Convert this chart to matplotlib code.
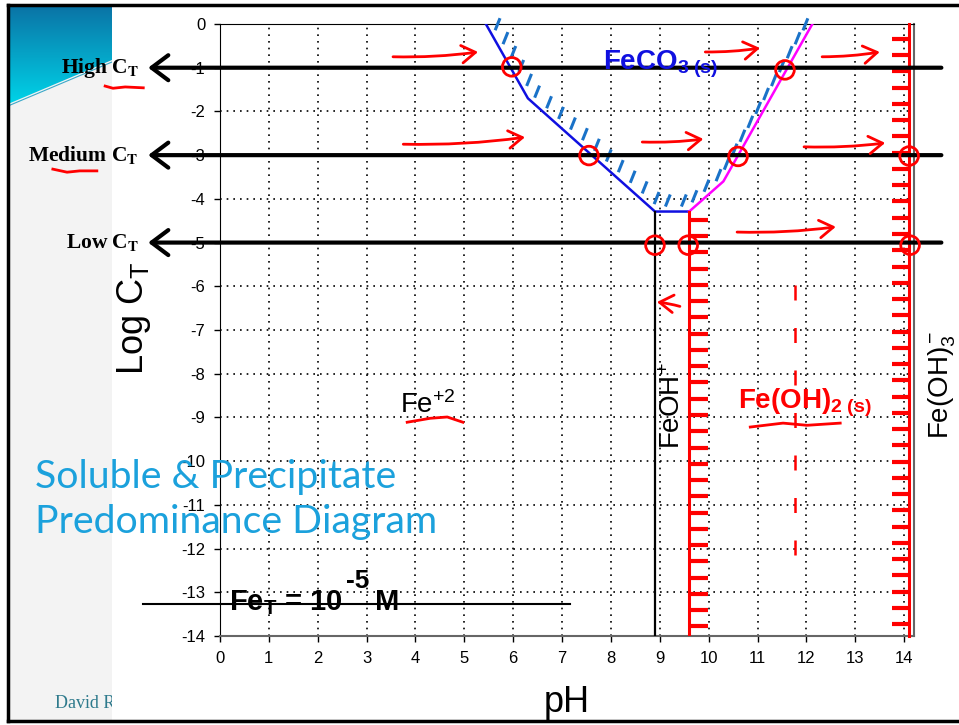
import matplotlib.pyplot as plt
import numpy as np
from matplotlib.patches import Rectangle, Polygon
from matplotlib.colors import LinearSegmentedColormap

plt.rcParams['font.family'] = ['Liberation Sans', 'DejaVu Sans']
plt.rcParams['mathtext.fontset'] = 'custom'
plt.rcParams['mathtext.rm'] = 'Liberation Sans'
plt.rcParams['mathtext.it'] = 'Liberation Sans:italic'
plt.rcParams['mathtext.bf'] = 'Liberation Sans:bold'
plt.rcParams['axes.unicode_minus'] = False

# axes ticks
ph_ticks = list(range(0, 15))
logc_ticks = list(range(0, -15, -1))

# FeCO3(s) boundary, Fe+2 side and the short FeOH+ shelf
feco3_left_ph = [5.44, 6.30, 8.90, 9.60]
feco3_left_logc = [0.0, -1.70, -4.29, -4.29]
# FeCO3(s) boundary, Fe(OH)2(s) side
feco3_right_ph = [9.60, 10.30, 12.12]
feco3_right_logc = [-4.29, -3.60, 0.0]

feoh_ph = 8.9        # Fe+2 / FeOH+
feoh2_low_ph = 9.6   # FeOH+ / Fe(OH)2(s)
feoh2_high_ph = 14.1  # Fe(OH)2(s) / Fe(OH)3-
shelf_logc = -4.29

# total carbonate levels
ct_levels = [-1, -3, -5]
ct_names = ['High', 'Medium', 'Low']
fe_t_logc = -13.27

# hand annotations (red pen)
circle_ph = [5.97, 7.55, 10.60, 11.56, 8.90, 9.58, 14.12, 14.10]
circle_logc = [-0.98, -3.01, -3.03, -1.05, -5.06, -5.06, -5.06, -3.02]
pen_arrows = [
    (3.54, -0.75, 5.28, -0.64),
    (3.75, -2.75, 6.24, -2.59),
    (8.64, -2.70, 9.89, -2.63),
    (9.93, -0.64, 11.05, -0.55),
    (12.32, -0.75, 13.50, -0.64),
    (11.95, -2.81, 13.61, -2.72),
    (10.58, -4.76, 12.60, -4.64),
    (9.41, -6.46, 8.94, -6.36),
]
underlines = [
    ([-2.35, -2.19, -1.94, -1.57], [-1.42, -1.47, -1.44, -1.46]),
    ([-3.42, -3.13, -2.87, -2.52], [-3.32, -3.39, -3.36, -3.36]),
    ([3.83, 4.30, 4.65, 4.97], [-9.11, -9.02, -8.99, -9.11]),
    ([10.85, 11.52, 12.01, 12.69], [-9.22, -9.13, -9.18, -9.13]),
]
split_ph = 11.77
split_logc = [-5.97, -12.2]

fig = plt.figure(figsize=(9.59, 7.25), dpi=100)

# slide background (pixel coordinates)
deco = fig.add_axes([0, 0, 1, 1], zorder=0)
deco.set_xlim(0, 959)
deco.set_ylim(725, 0)
deco.axis('off')
deco.add_patch(Rectangle((8, 6), 110, 715, color='#f3f3f3', lw=0))
grad = np.linspace(0, 1, 100)[:, None] * np.ones((1, 50))
cmap = LinearSegmentedColormap.from_list('slide', ['#0a74a6', '#00d3e8'])
blob = Polygon([(8, 6), (112, 6), (112, 60), (60, 82), (8, 104)], closed=True,
               facecolor='none', edgecolor='none')
deco.add_patch(blob)
im = deco.imshow(grad, extent=(8, 112, 104, 6), cmap=cmap, aspect='auto', zorder=2)
im.set_clip_path(blob)
deco.set_xlim(0, 959)
deco.set_ylim(725, 0)
deco.plot([8, 60, 112], [106, 84, 62], color='#3aa8c8', lw=0.8, zorder=2)
deco.text(55, 708, 'David Re', fontsize=13, color='#2e7a8c',
          family='Liberation Serif', va='baseline')
deco.add_patch(Rectangle((112, 6), 860, 715, color='white', lw=0, zorder=3))
deco.plot([8, 959], [5, 5], color='black', lw=2.5, zorder=4)
deco.plot([8, 959], [721, 721], color='black', lw=2.5, zorder=4)
deco.plot([8, 8], [5, 721], color='black', lw=2.5, zorder=4)

ax = fig.add_axes([220 / 959, 1 - 636 / 725, 694 / 959, 612 / 725], zorder=2)
ax.set_xlim(0, 14.2)
ax.set_ylim(-14, 0)
ax.set_xticks(ph_ticks)
ax.set_yticks(logc_ticks)
ax.tick_params(labelsize=12, length=4.5, width=1, pad=6)
ax.grid(True, color='black', linestyle=(0, (1, 3)), lw=1.2)
ax.set_axisbelow(True)
for side in ['bottom', 'right']:
    ax.spines[side].set_color('#666666')
    ax.spines[side].set_linewidth(1.5)
ax.set_xlabel('pH', fontsize=26)
ax.xaxis.set_label_coords(0.5, -0.08)
ax.set_ylabel(r'Log C$_\mathrm{T}$', fontsize=26)
ax.yaxis.set_label_coords(-0.097, 0.52)


def pen_hatch(xs, ys, spacing=16, length=13, gap=5, angle=68, start=10, **kw):
    # short strokes on the left side of the path, in pixel space
    pts = ax.transData.transform(np.column_stack([xs, ys]))
    d = np.diff(pts, axis=0)
    seg = np.hypot(d[:, 0], d[:, 1])
    cum = np.concatenate([[0], np.cumsum(seg)])
    inv = ax.transData.inverted()
    a = np.radians(angle)
    u = np.array([np.cos(a), np.sin(a)])
    for s in np.arange(start, cum[-1] - 4, spacing):
        i = min(np.searchsorted(cum, s, side='right') - 1, len(d) - 1)
        t = d[i] / seg[i]
        n = np.array([-t[1], t[0]])
        p = pts[i] + (s - cum[i]) * t + gap * n
        q = p + length * u
        (x0, y0), (x1, y1) = inv.transform([p, q])
        ax.plot([x0, x1], [y0, y1], solid_capstyle='butt', clip_on=False, **kw)


# FeCO3(s) region
ax.plot(feco3_left_ph, feco3_left_logc, color='#1010e0', lw=1.8, zorder=3)
ax.plot(feco3_right_ph, feco3_right_logc, color='#ff00ff', lw=1.8, zorder=3)
pen_hatch(feco3_left_ph + feco3_right_ph[1:], feco3_left_logc + feco3_right_logc[1:],
          color='#1a72c8', lw=2.2, zorder=3)

# Fe+2 / FeOH+ boundary
ax.plot([feoh_ph, feoh_ph], [shelf_logc, -14], color='black', lw=1.6, zorder=3)

# Fe(OH)2(s) precipitate boundaries with ticks
tick_dx = 0.39
ax.plot([feoh2_low_ph, feoh2_low_ph], [shelf_logc, -14], color='red', lw=2.2, zorder=3)
low_ticks = np.arange(-4.48, -13.9, -0.372)
ax.hlines(low_ticks, feoh2_low_ph, feoh2_low_ph + tick_dx, color='red', lw=3, zorder=3)
ax.plot([feoh2_high_ph, feoh2_high_ph], [0, -14], color='red', lw=2.2, zorder=3, clip_on=False)
high_ticks = np.arange(-0.34, -13.9, -0.372)
ax.hlines(high_ticks, feoh2_high_ph - 0.36, feoh2_high_ph, color='red', lw=3, zorder=3)

# CT levels
for lvl, name in zip(ct_levels, ct_names):
    ax.annotate('', xy=(-1.47, lvl), xytext=(14.76, lvl), annotation_clip=False,
                arrowprops=dict(arrowstyle='->, head_length=0.6, head_width=0.45',
                                lw=3, color='black', mutation_scale=20,
                                shrinkA=0, shrinkB=0), zorder=4)
    ax.text(-1.66, lvl, name + r' C$_\mathbf{T}$', family='Liberation Serif',
            fontweight='bold', fontsize=15.5, math_fontfamily='stix',
            ha='right', va='center', clip_on=False, zorder=5)

# species labels
ax.text(7.84, -1.05, r'FeCO$_\mathbf{3\ (s)}$', color='#1010e0', fontsize=20,
        fontweight='bold', va='baseline', zorder=5)
ax.text(3.68, -8.9, r'Fe$^{+2}$', fontsize=20, va='baseline', zorder=5)
ax.text(9.27, -8.72, r'FeOH$^{+}$', fontsize=20, rotation=90, ha='center',
        va='center', zorder=5)
ax.text(10.6, -8.79, r'Fe(OH)$_\mathbf{2\ (s)}$', color='red', fontsize=20,
        fontweight='bold', va='baseline', zorder=5)
ax.text(14.78, -8.26, r'Fe(OH)$_3^-$', fontsize=20, rotation=90, ha='center',
        va='center', clip_on=False, zorder=5)

# total iron
ax.plot([-1.58, 7.16], [fe_t_logc, fe_t_logc], color='black', lw=1.5,
        clip_on=False, zorder=4)
ax.text(0.19, -13.41, r'Fe$_\mathbf{T}$ = 10', fontsize=21,
        fontweight='bold', va='baseline', zorder=5)
ax.text(2.58, -12.90, '-5', fontsize=19, fontweight='bold', va='baseline', zorder=5)
ax.text(3.17, -13.41, 'M', fontsize=21, fontweight='bold', va='baseline', zorder=5)

# red pen marks
ax.scatter(circle_ph, circle_logc, s=180, facecolors='none', edgecolors='red',
           lw=2, zorder=6, clip_on=False)
for x0, y0, x1, y1 in pen_arrows:
    ax.annotate('', xy=(x1, y1), xytext=(x0, y0), annotation_clip=False,
                arrowprops=dict(arrowstyle='->, head_length=0.55, head_width=0.35',
                                lw=2, color='red', mutation_scale=18,
                                connectionstyle='arc3,rad=0.04',
                                shrinkA=0, shrinkB=0), zorder=6)
for xs, ys in underlines:
    ax.plot(xs, ys, color='red', lw=2, clip_on=False, zorder=6)
ax.plot([split_ph, split_ph], split_logc, color='red', lw=1.8,
        linestyle=(0, (6, 11)), zorder=6)

fig.text(35 / 959, 1 - 533 / 725, 'Soluble & Precipitate\nPredominance Diagram',
         color='#1ba1dc', fontsize=28.3, family='Lato', linespacing=1.3,
         va='baseline', zorder=10)

fig.savefig('out.png', dpi=100)
